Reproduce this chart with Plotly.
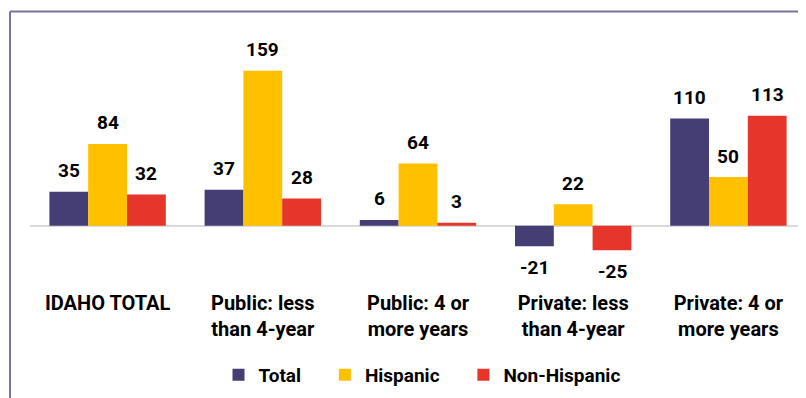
import plotly.graph_objects as go

categories = ["IDAHO TOTAL", "Public: less<br>than 4-year", "Public: 4 or<br>more years",
              "Private: less<br>than 4-year", "Private: 4 or<br>more years"]
total = [35, 37, 6, -21, 110]
hispanic = [84, 159, 64, 22, 50]
non_hispanic = [32, 28, 3, -25, 113]

FONT = "Roboto, Arial, sans-serif"

series = [
    ("Total", total, "#443e74"),
    ("Hispanic", hispanic, "#ffc000"),
    ("Non-Hispanic", non_hispanic, "#e6352b"),
]
legend_pad = ["&nbsp;" * 4, "&nbsp;" * 4, ""]

# page has an 8px body margin; figure pixel = page pixel - 8
# plot area on page: x 30..806, y 65..255  -> figure: x 22..798, y 57..247
PW, PH = 776, 190

fig = go.Figure()
bar_px = PW / 5 * 0.75 / 3
for i, (name, vals, color) in enumerate(series):
    fig.add_bar(
        x=categories, y=vals, name=f"<b>{name}</b>{legend_pad[i]}",
        marker=dict(color=color, line=dict(width=0)),
    )
    for c, v in zip(categories, vals):
        fig.add_annotation(
            x=c, y=v, xref="x", yref="y", text=f"<b>{v}</b>", showarrow=False,
            xshift=(i - 1) * bar_px, yshift=21 if v >= 0 else -21,
            font=dict(family=FONT, size=19, color="#000000"),
        )

fig.update_layout(
    width=806, height=398,
    margin=dict(l=22, r=8, t=57, b=151, autoexpand=False),
    paper_bgcolor="white", plot_bgcolor="white",
    barmode="group", bargap=0.25, bargroupgap=0,
    font=dict(family=FONT, size=17, color="#000000"),
    showlegend=True,
    legend=dict(
        orientation="h", x=(414 - 22) / PW, xanchor="center",
        yref="container", y=1 - 367 / 398, yanchor="middle",
        font=dict(family=FONT, size=19, color="#000000"),
        traceorder="normal", itemwidth=30,
    ),
)
fig.update_xaxes(
    automargin=False, showgrid=False, showline=False, ticks="",
    tickfont=dict(family=FONT, size=20, color="#000000"),
    ticktext=[f"<b>{c}</b>" for c in categories], tickvals=categories,
    ticklabelstandoff=34,
)
fig.update_yaxes(
    automargin=False, range=[-30, 165], showgrid=False, showticklabels=False,
    zeroline=True, zerolinecolor="#d9d9d9", zerolinewidth=2,
)

# outer frame (top and left edges visible)
frame = "#77739f"
fx = (2 - 22) / PW
fy = 1 + (57 - 3.5) / PH
fig.add_shape(type="line", xref="paper", yref="paper",
              x0=fx, x1=1.05, y0=fy, y1=fy, line=dict(color=frame, width=2))
fig.add_shape(type="line", xref="paper", yref="paper",
              x0=fx, x1=fx, y0=fy, y1=-1.0, line=dict(color=frame, width=2))

fig.write_html("out.html")
